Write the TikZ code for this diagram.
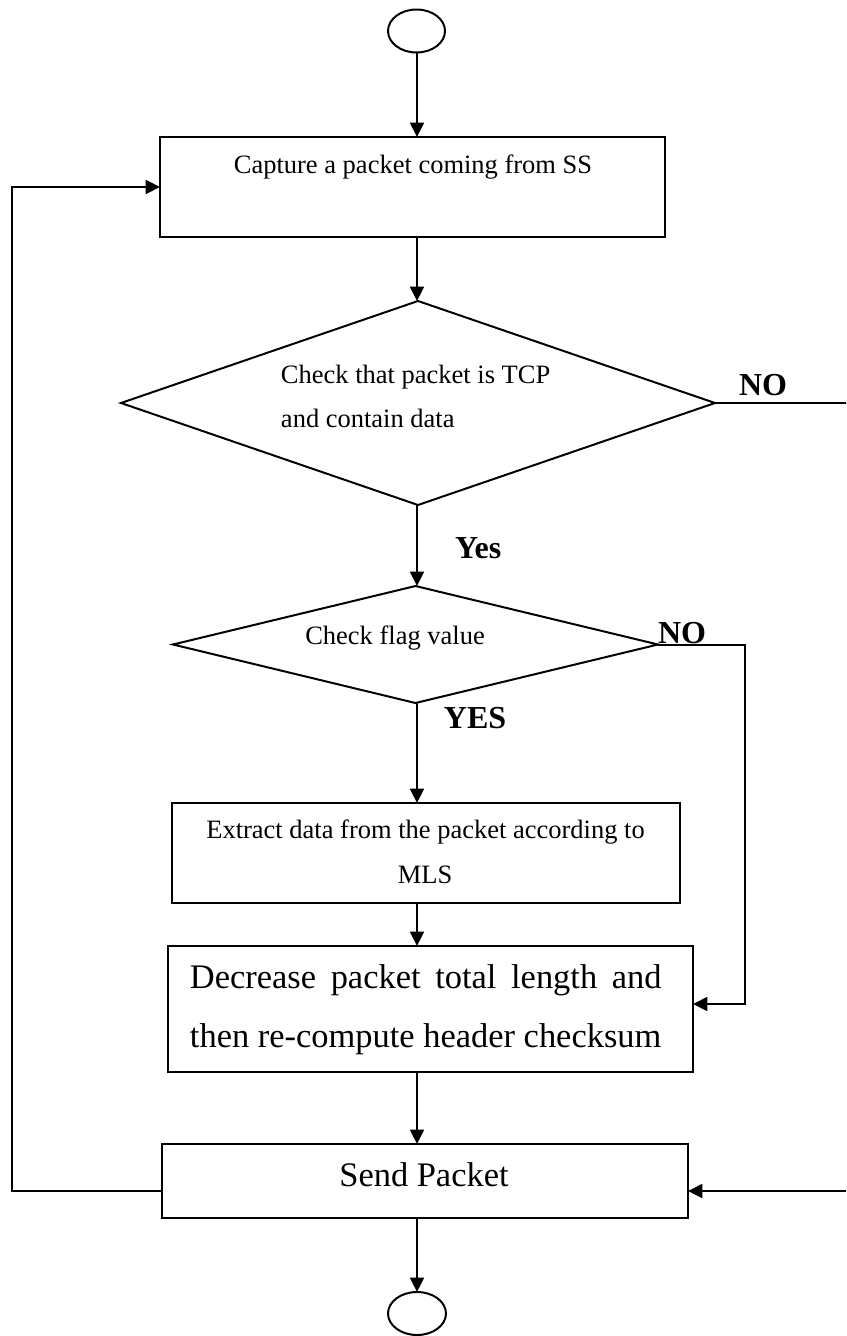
\documentclass[tikz,border=0pt]{standalone}
\usepackage{fontspec}
\setmainfont{Liberation Serif}
\usetikzlibrary{arrows.meta,shapes.geometric}

\begin{document}
\begin{tikzpicture}[
  x=0.453pt, y=-0.453pt,
  line width=0.9pt,
  >={Triangle[length=6.5pt,width=6.3pt]},
  box/.style={draw, rectangle, inner sep=0pt, outer sep=0pt},
  decision/.style={draw, diamond, inner sep=0pt, outer sep=0pt},
  terminal/.style={draw, ellipse, inner sep=0pt, outer sep=0pt},
  small/.style={inner sep=0pt, font=\fontsize{12pt}{14pt}\selectfont},
  large/.style={inner sep=0pt, font=\fontsize{15.6pt}{18pt}\selectfont},
  answer/.style={inner sep=0pt, anchor=base west, font=\fontsize{14.5pt}{17pt}\selectfont\bfseries},
]
\useasboundingbox (0,0) rectangle (846,1336);
\fill[white] (0,0) rectangle (846,1336);
\clip (0,0) rectangle (846,1336);

% shapes
\node[terminal, minimum width=57*0.453pt, minimum height=43*0.453pt] (start) at (416.5,31) {};
\node[box, minimum width=505*0.453pt, minimum height=100*0.453pt] (cap) at (412.5,187) {};
\node[decision, minimum width=594*0.453pt, minimum height=204*0.453pt] (d1) at (418,403) {};
\node[decision, minimum width=485*0.453pt, minimum height=117*0.453pt] (d2) at (415.5,644.5) {};
\node[box, minimum width=508*0.453pt, minimum height=100*0.453pt] (ext) at (426,853) {};
\node[box, minimum width=525*0.453pt, minimum height=126*0.453pt] (dec) at (430.5,1009) {};
\node[box, minimum width=526*0.453pt, minimum height=74*0.453pt] (send) at (425,1181) {};
\node[terminal, minimum width=58*0.453pt, minimum height=43*0.453pt] (end) at (417,1313.5) {};

% texts
\node[small, anchor=base] (tcap) at (413,173) {Capture a packet coming from SS};
\node[small, anchor=base west] (td1a) at (280,383) {Check that packet is TCP};
\node[small, anchor=base west] (td1b) at (280,427) {and contain data};
\node[small, anchor=base] (td2) at (395,644) {Check flag value};
\node[small, anchor=base] (text1) at (425.5,838) {Extract data from the packet according to};
\node[small, anchor=base] (text2) at (425,883) {MLS};
\node[large, anchor=base west] (tdec1) at (189,988) {\makebox[213.6pt][s]{Decrease packet total length and}};
\node[large, anchor=base west] (tdec2) at (189,1047) {then re-compute header checksum};
\node[large, anchor=base] (tsend) at (424,1186) {Send Packet};

\node[answer] (no1) at (738,395) {NO};
\node[answer] (yes1) at (454,558) {Yes};
\node[answer] (no2) at (657,643) {NO};
\node[answer] (yes2) at (443,728) {YES};

% helper points for the loops
\coordinate (ax) at (417,0);
\coordinate (r1a) at (880,403);
\coordinate (r1b) at (880,1191);
\coordinate (r2) at (745,1004);
\coordinate (l1) at (12,1191);

% main flow
\draw[->] (start.south -| ax) -- (cap.north -| ax);
\draw[->] (cap.south -| ax) -- (d1.north -| ax);
\draw[->] (d1.south -| ax) -- (d2.north -| ax);
\draw[->] (d2.south -| ax) -- (ext.north -| ax);
\draw[->] (ext.south -| ax) -- (dec.north -| ax);
\draw[->] (dec.south -| ax) -- (send.north -| ax);
\draw[->] (send.south -| ax) -- (end.north -| ax);

% branches and loop back
\draw[->] (d2.east) -| (r2) -- (r2 -| dec.east);
\draw[->] (d1.east) -- (r1a) -- (r1b) -- (r1b -| send.east);
\draw[->] (l1 -| send.west) -- (l1) |- (cap.west);
\end{tikzpicture}
\end{document}
